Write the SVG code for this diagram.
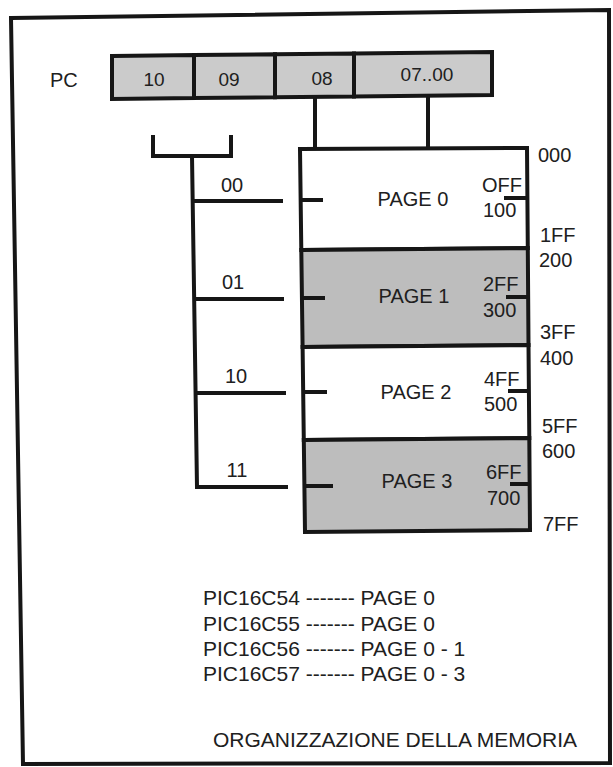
<svg xmlns="http://www.w3.org/2000/svg" width="613" height="767" viewBox="0 0 613 767">
<style>
  .ln { fill: none; stroke: #161616; stroke-linejoin: miter; stroke-linecap: butt; }
  .box { stroke: #161616; stroke-width: 4; stroke-linejoin: miter; }
  .w { fill: #ffffff; }
  .g { fill: #bdbdbd; }
  .gl { fill: #cbcbcb; }
  text { font-family: "Liberation Sans", Arial, Helvetica, sans-serif; fill: #202020; }
  .t20 { font-size: 20px; }
  .t21 { font-size: 21px; }
  .t19 { font-size: 19px; }
  .mid { text-anchor: middle; }
</style>
<rect x="0" y="0" width="613" height="767" fill="#ffffff"/>

<g id="frame">
  <polygon points="11,18 609,10 610,763 23,764" fill="none" stroke="#161616" stroke-width="4"/>
</g>

<g id="pc-register">
  <text class="t20" x="50" y="87">PC</text>
  <polygon class="box gl" points="112,56 194,55.1 194,98.1 112,99"/>
  <polygon class="box gl" points="194,55.1 275,54.3 275,97.3 194,98.1"/>
  <polygon class="box gl" points="275,54.3 354,53.5 354,96.5 275,97.3"/>
  <polygon class="box gl" points="354,53.5 492,52 492,95 354,96.5"/>
  <text class="t19 mid" x="154" y="86">10</text>
  <text class="t19 mid" x="229" y="86">09</text>
  <text class="t19 mid" x="322" y="85">08</text>
  <text class="t19 mid" x="427" y="81">07..00</text>
</g>

<g id="page0">
  <polygon class="box w" points="300,149 527,148 527.8,248 301.3,250"/>
  <text class="t20 mid" x="413" y="206">PAGE 0</text>
  <text class="t20" x="482" y="192">OFF</text>
  <text class="t20" x="483" y="217">100</text>
</g>
<g id="page1">
  <polygon class="box g" points="301.3,250 527.8,248 528.5,345 302.6,347"/>
  <text class="t20 mid" x="414" y="303">PAGE 1</text>
  <text class="t20" x="483" y="291">2FF</text>
  <text class="t20" x="483" y="317">300</text>
</g>
<g id="page2">
  <polygon class="box w" points="302.6,347 528.5,345 529.3,438 303.8,440"/>
  <text class="t20 mid" x="416" y="399">PAGE 2</text>
  <text class="t20" x="484" y="386">4FF</text>
  <text class="t20" x="484" y="411">500</text>
</g>
<g id="page3">
  <polygon class="box g" points="303.8,440 529.3,438 530,530 305,532"/>
  <text class="t20 mid" x="417" y="488">PAGE 3</text>
  <text class="t20" x="486" y="479">6FF</text>
  <text class="t20" x="487" y="505">700</text>
</g>

<g id="addresses">
  <text class="t20" x="538" y="162">000</text>
  <text class="t20" x="540" y="242">1FF</text>
  <text class="t20" x="539" y="267">200</text>
  <text class="t20" x="540" y="339">3FF</text>
  <text class="t20" x="540" y="365">400</text>
  <text class="t20" x="542" y="433">5FF</text>
  <text class="t20" x="542" y="458">600</text>
  <text class="t20" x="543" y="531">7FF</text>
</g>

<g id="branch-labels">
  <text class="t20 mid" x="232" y="192">00</text>
  <text class="t20 mid" x="233" y="289">01</text>
  <text class="t20 mid" x="236" y="383">10</text>
  <text class="t20 mid" x="237" y="477">11</text>
</g>

<g id="connectors" class="ln">
  <path d="M315,97.4 V149" stroke-width="4"/>
  <path d="M428,96 V148.5" stroke-width="4"/>
  <path d="M153,135 V156 H231 V135" stroke-width="4"/>
  <path d="M192,156 L197,487 H288" stroke-width="4"/>
  <path d="M192.7,201 H283" stroke-width="4"/>
  <path d="M194.2,299 H284" stroke-width="4"/>
  <path d="M195.6,393 H286" stroke-width="4"/>
  <path d="M300,200 H323" stroke-width="4"/>
  <path d="M301.5,298 H325" stroke-width="4"/>
  <path d="M303,392 H327" stroke-width="4"/>
  <path d="M304.5,486 H333" stroke-width="4"/>
  <path d="M504,198 H527" stroke-width="4"/>
  <path d="M506,297 H528" stroke-width="4"/>
  <path d="M508,391 H529" stroke-width="4"/>
  <path d="M510,484 H530" stroke-width="4"/>
</g>

<g id="legend">
  <text class="t21" x="203" y="605">PIC16C54 ------- PAGE 0</text>
  <text class="t21" x="203" y="631">PIC16C55 ------- PAGE 0</text>
  <text class="t21" x="203" y="656">PIC16C56 ------- PAGE 0 - 1</text>
  <text class="t21" x="203" y="681">PIC16C57 ------- PAGE 0 - 3</text>
</g>

<g id="title">
  <text class="t21" x="213" y="747">ORGANIZZAZIONE DELLA MEMORIA</text>
</g>
</svg>
